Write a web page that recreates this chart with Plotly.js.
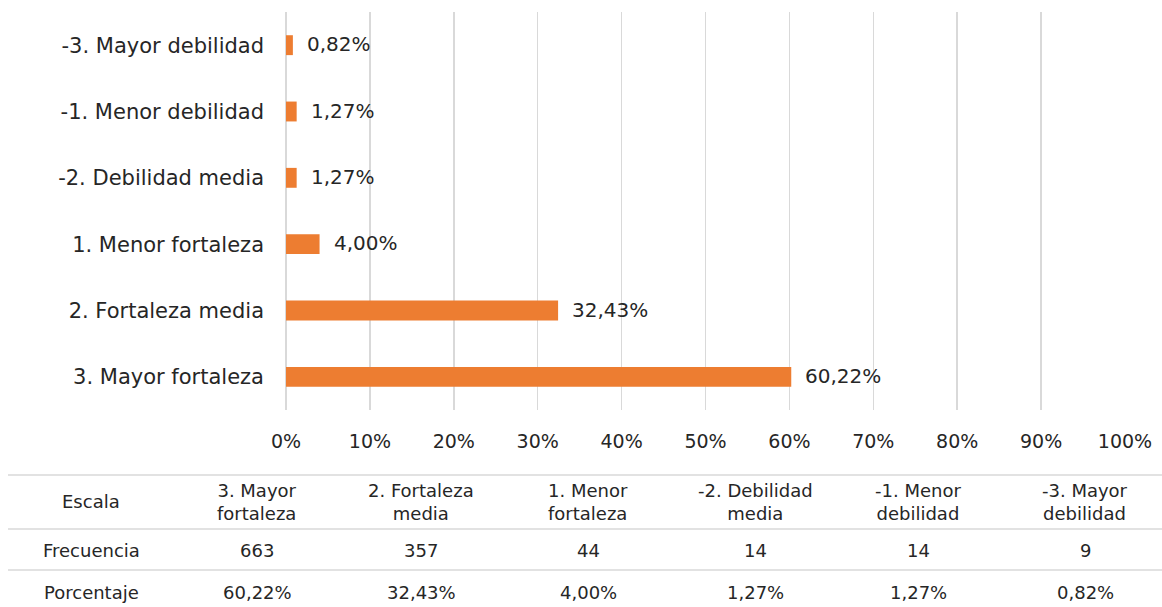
<!DOCTYPE html>
<html>
<head>
<meta charset="utf-8">
<script src="https://cdn.plot.ly/plotly-3.0.1.min.js"></script>
<style>html,body{margin:0;padding:0;background:#fff;}#chart{width:1162px;height:607px;}</style>
</head>
<body>
<div id="chart"></div>
<script>
// Data (bar order from bottom to top)
const categories = ["3. Mayor fortaleza", "2. Fortaleza media", "1. Menor fortaleza", "-2. Debilidad media", "-1. Menor debilidad", "-3. Mayor debilidad"];
const percentages = [60.22, 32.43, 4.00, 1.27, 1.27, 0.82];
const percentLabels = ["60,22%", "32,43%", "4,00%", "1,27%", "1,27%", "0,82%"];
const frequencies = [663, 357, 44, 14, 14, 9];
const tableHeaders = ["3. Mayor<br>fortaleza", "2. Fortaleza<br>media", "1. Menor<br>fortaleza", "-2. Debilidad<br>media", "-1. Menor<br>debilidad", "-3. Mayor<br>debilidad"];
const rowLabels = ["Escala", "Frecuencia", "Porcentaje"];
const xTickVals = [0, 10, 20, 30, 40, 50, 60, 70, 80, 90, 100];
const xTickText = ["0%", "10%", "20%", "30%", "40%", "50%", "60%", "70%", "80%", "90%", "100%"];

const W = 1162, H = 607;
const L = 286, R = 1125, T = 12, B = 410;
const FONT = "DejaVu Sans, sans-serif";
const TXT = "#262626";
const px = p => (p - L) / (R - L);
const py = p => (B - p) / (B - T);

const trace = {
  type: "bar",
  orientation: "h",
  y: categories,
  x: percentages,
  marker: {color: "#ED7D31"},
  width: 0.3,
  hoverinfo: "skip"
};

const annotations = [];
const shapes = [];
// data labels attached to bars through the axes
categories.forEach((c, i) => {
  annotations.push({xref: "x", yref: "y", x: percentages[i], y: c, text: percentLabels[i], showarrow: false,
    xanchor: "left", yanchor: "middle", xshift: 12, yshift: 1, font: {family: FONT, size: 20, color: TXT}});
});
// table lines
[475, 529, 570].forEach(y => {
  shapes.push({type: "line", xref: "paper", yref: "paper", x0: px(8), x1: px(1162), y0: py(y), y1: py(y),
    line: {color: "#d9d9d9", width: 1.5}});
});
const colCenters = [257, 421, 588, 755, 918, 1085];
const rowY = [502, 550, 592];
const tfont = {family: FONT, size: 18, color: TXT};
rowLabels.forEach((t, i) => {
  annotations.push({xref: "paper", yref: "paper", x: px(91), y: py(rowY[i]), text: t, showarrow: false,
    xanchor: "center", yanchor: "middle", font: tfont});
});
tableHeaders.forEach((t, i) => {
  annotations.push({xref: "paper", yref: "paper", x: px(colCenters[i]), y: py(rowY[0]), text: t, showarrow: false,
    xanchor: "center", yanchor: "middle", font: tfont});
  annotations.push({xref: "paper", yref: "paper", x: px(colCenters[i]), y: py(rowY[1]), text: String(frequencies[i]), showarrow: false,
    xanchor: "center", yanchor: "middle", font: tfont});
  annotations.push({xref: "paper", yref: "paper", x: px(colCenters[i]), y: py(rowY[2]), text: percentLabels[i], showarrow: false,
    xanchor: "center", yanchor: "middle", font: tfont});
});

const layout = {
  width: W, height: H,
  margin: {l: L, r: W - R, t: T, b: H - B, pad: 0},
  paper_bgcolor: "#fff", plot_bgcolor: "#fff",
  showlegend: false,
  xaxis: {
    range: [0, 100], tickvals: xTickVals, ticktext: xTickText,
    showgrid: true, gridcolor: "#d9d9d9", gridwidth: 1.5,
    zeroline: true, zerolinecolor: "#d9d9d9", zerolinewidth: 1.5,
    showline: false, ticks: "", ticklabelstandoff: 18,
    tickfont: {family: FONT, size: 19, color: TXT}, fixedrange: true
  },
  yaxis: {
    type: "category", categoryorder: "array", categoryarray: categories,
    showgrid: false, zeroline: false, showline: false, ticks: "",
    ticklabelstandoff: 21,
    tickfont: {family: FONT, size: 21, color: TXT}, fixedrange: true
  },
  shapes: shapes,
  annotations: annotations
};

Plotly.newPlot("chart", [trace], layout, {displayModeBar: false, staticPlot: true});
</script>
</body>
</html>
